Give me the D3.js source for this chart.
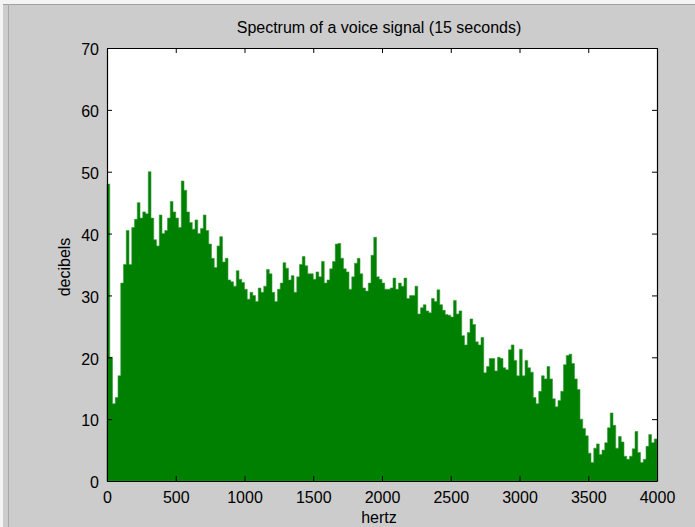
<!DOCTYPE html>
<html>
<head>
<meta charset="utf-8">
<script src="https://cdn.jsdelivr.net/npm/d3@7"></script>
<style>
  html, body { margin: 0; padding: 0; background: #cccccc; }
  svg { display: block; }
  text { font-family: "Liberation Sans", Arial, Helvetica, sans-serif; fill: #000; }
</style>
</head>
<body>
<svg id="chart" width="695" height="527"></svg>
<script>
// ---- data ----
const title = "Spectrum of a voice signal (15 seconds)";
const xLabel = "hertz";
const yLabel = "decibels";
const binWidthHz = 20;           // each value covers 20 Hz, starting at 0 Hz
const decibels = [
  48, 20, 12.5, 13.5, 17, 32, 35, 40.5, 35, 41,
  42.3, 45, 42.5, 43.5, 43.2, 50, 42.5, 39, 38, 43,
  40, 40.5, 42.5, 45.2, 43.5, 42.5, 41, 48.5, 47, 43.5,
  41.8, 40.7, 42.2, 40, 40.8, 43, 40.5, 38.3, 36, 34.5,
  38, 39.5, 35.4, 36, 32.5, 32.2, 31.5, 34, 32.6, 32.1,
  31, 29.4, 30.5, 30, 29, 31.2, 30.5, 31.5, 34.2, 33.5,
  30.5, 29, 31, 32, 35.3, 34.4, 32.5, 33.2, 30.5, 33,
  35, 36.3, 34.8, 33.5, 33.5, 32.6, 33.8, 33, 35.5, 32,
  32.5, 34.3, 35.5, 38.3, 38.4, 36, 34.3, 33.8, 31, 33,
  35.2, 36, 33.5, 31.2, 30.7, 32, 36.5, 39.4, 33, 32.6,
  32, 31, 31, 31.2, 32.8, 31, 32, 31.5, 32.8, 29.5,
  30, 30, 31.5, 27, 28, 28.5, 27.5, 27.2, 29.5, 29,
  30.9, 28.5, 27.6, 26.9, 26.8, 26.5, 29.2, 27, 27.5, 23.5,
  22, 24, 26.2, 25.3, 22.5, 22, 23.2, 17.5, 18.5, 19.8,
  19.8, 17.8, 20, 19.8, 18.3, 18, 21.2, 22, 19.5, 17,
  21.3, 17, 19.5, 18.3, 17.6, 13.5, 12.5, 14.5, 17, 16.5,
  18.5, 16.5, 13.3, 12, 13, 14.5, 18.8, 20.3, 20.5, 19,
  16.5, 14.8, 10, 8.5, 7.3, 4.5, 3, 5.3, 6, 4.3,
  5, 6.2, 8.6, 11, 9, 5.3, 7.2, 6.3, 4, 3.5,
  4, 5.2, 8, 4.6, 3, 3.5, 5.6, 7.5, 6.2, 6.8
];
const xTicks = [0, 500, 1000, 1500, 2000, 2500, 3000, 3500, 4000];
const yTicks = [0, 10, 20, 30, 40, 50, 60, 70];

// ---- chart ----
const W = 695, H = 527;
const plot = { left: 107, right: 657, top: 48, bottom: 481 };
const svg = d3.select("#chart");

// window chrome
svg.append("rect").attr("x", 0).attr("y", 0).attr("width", W).attr("height", H).attr("fill", "#cccccc");
svg.append("rect").attr("x", 0).attr("y", 0).attr("width", W).attr("height", 4).attr("fill", "#f4f4f4");
svg.append("line").attr("x1", 0).attr("x2", W).attr("y1", 4.5).attr("y2", 4.5).attr("stroke", "#a0a0a0");
svg.append("rect").attr("x", 0).attr("y", 0).attr("width", 3).attr("height", H).attr("fill", "#f4f4f4");
svg.append("line").attr("x1", 8.5).attr("x2", 8.5).attr("y1", 4).attr("y2", H).attr("stroke", "#a8a8a8");

const x = d3.scaleLinear().domain([0, 4000]).range([plot.left, plot.right]);
const y = d3.scaleLinear().domain([0, 70]).range([plot.bottom, plot.top]);

// plot background
svg.append("rect")
  .attr("x", plot.left).attr("y", plot.top)
  .attr("width", plot.right - plot.left).attr("height", plot.bottom - plot.top)
  .attr("fill", "#ffffff");

// spectrum as a stepped filled area (one bar per 20 Hz bin, no seams)
const pts = decibels.map((v, i) => ({ f: i * binWidthHz, v }));
pts.push({ f: decibels.length * binWidthHz, v: decibels[decibels.length - 1] });

const area = d3.area()
  .curve(d3.curveStepAfter)
  .x(d => x(d.f))
  .y0(y(0))
  .y1(d => y(d.v));

svg.append("path")
  .datum(pts)
  .attr("d", area)
  .attr("fill", "#008000")
  .attr("stroke", "#3a9a3a")
  .attr("stroke-width", 0.6);

// axes (MATLAB-style box with inward ticks)
const tickLen = 5;
const fontSize = 16;

const gBottom = svg.append("g").attr("transform", `translate(0,${plot.bottom})`)
  .call(d3.axisBottom(x).tickValues(xTicks).tickSize(-tickLen).tickSizeOuter(0).tickPadding(10).tickFormat(d3.format("d")));
const gTop = svg.append("g").attr("transform", `translate(0,${plot.top})`)
  .call(d3.axisTop(x).tickValues(xTicks).tickSize(-tickLen).tickSizeOuter(0).tickFormat(""));
const gLeft = svg.append("g").attr("transform", `translate(${plot.left},0)`)
  .call(d3.axisLeft(y).tickValues(yTicks).tickSize(-tickLen).tickSizeOuter(0).tickPadding(8).tickFormat(d3.format("d")));
const gRight = svg.append("g").attr("transform", `translate(${plot.right},0)`)
  .call(d3.axisRight(y).tickValues(yTicks).tickSize(-tickLen).tickSizeOuter(0).tickFormat(""));

[gBottom, gTop, gLeft, gRight].forEach(g => {
  g.selectAll("path.domain").attr("stroke", "#000").attr("stroke-width", 1.2);
  g.selectAll(".tick line").attr("stroke", "#000").attr("stroke-width", 1);
  g.selectAll(".tick text")
    .style("font-family", '"Liberation Sans", Arial, sans-serif')
    .style("font-size", fontSize + "px")
    .attr("fill", "#000");
});
gLeft.selectAll(".tick text").attr("dy", "0.42em");
gBottom.selectAll(".tick text").attr("dy", "0.72em");

// titles
svg.append("text")
  .attr("x", 379).attr("y", 33)
  .attr("text-anchor", "middle")
  .style("font-size", fontSize + "px")
  .text(title);

svg.append("text")
  .attr("x", 379).attr("y", 523)
  .attr("text-anchor", "middle")
  .style("font-size", fontSize + "px")
  .text(xLabel);

svg.append("text")
  .attr("transform", `translate(70,267) rotate(-90)`)
  .attr("text-anchor", "middle")
  .style("font-size", fontSize + "px")
  .text(yLabel);
</script>
</body>
</html>
